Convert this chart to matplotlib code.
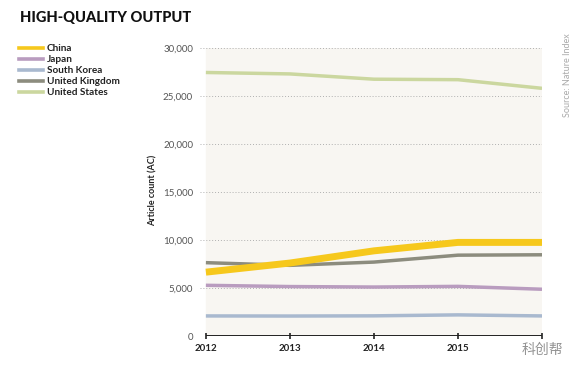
import numpy as np
import matplotlib.pyplot as plt

plt.rcParams['font.family'] = ['Lato', 'DejaVu Sans']

years = [2012, 2013, 2014, 2015, 2016]
tick_labels = ['2012', '2013', '2014', '2015', '']
yticks = [0, 5000, 10000, 15000, 20000, 25000, 30000]

countries = ['China', 'Japan', 'South Korea', 'United Kingdom', 'United States']
china = [6650, 7600, 8870, 9750, 9750]
japan = [5280, 5150, 5100, 5170, 4870]
south_korea = [2090, 2080, 2100, 2200, 2090]
uk = [7640, 7360, 7700, 8420, 8460]
us = [27450, 27300, 26750, 26700, 25800]

series = [china, japan, south_korea, uk, us]
colors = ['#f6c81c', '#b99cbf', '#a9b9cf', '#8c8c7e', '#cbd79f']
widths = [5, 2.5, 2.5, 2.5, 2.5]

fig = plt.figure(figsize=(5.8, 3.72), dpi=100)
ax = fig.add_axes([200 / 580, 1 - 336 / 372, 342 / 580, 288 / 372])

x0 = 2011.93
ax.set_xlim(x0, 2016)
ax.set_ylim(0, 30000)

# fondo de la zona de datos
ax.axvspan(2012, 2016, color='#f8f6f2', zorder=0)
for v in yticks[1:]:
    ax.hlines(v, x0, 2016, colors='#b0b0b0', linestyles=(0, (1, 2)), linewidth=0.7, zorder=1)

# dibujar US al fondo, China encima
order = [4, 1, 2, 3, 0]
for i in order:
    ax.plot(years, series[i], color=colors[i], lw=widths[i], solid_capstyle='butt', zorder=3 + (i == 0))

ax.hlines(0, 2012, 2016, colors='#222222', linewidth=1.4, zorder=5)

for s in ax.spines.values():
    s.set_visible(False)

ax.set_xticks(years)
ax.set_xticklabels(tick_labels, fontsize=7, fontweight='bold', color='#222222')
ax.tick_params(axis='x', length=5, width=1.2, color='#222222', direction='inout', pad=3)
ax.set_yticks(yticks)
ax.set_yticklabels([f'{v:,}' for v in yticks], fontsize=7, color='#555555')
ax.tick_params(axis='y', length=0, pad=5)

fig.text(153 / 580, 1 - 190 / 372, 'Article count (AC)', rotation=90, ha='center', va='center',
         fontsize=6.5, fontweight='bold', color='#222222')

fig.text(20 / 580, 1 - 18 / 372, 'HIGH-QUALITY OUTPUT', fontsize=10.5, fontweight='black',
         color='#111111', ha='left', va='center')

fig.text(567 / 580, 1 - 75 / 372, 'Source: Nature Index', rotation=90, ha='center', va='center',
         fontsize=6.5, color='#aaaaaa')

fig.text(522 / 580, 1 - 350 / 372, '科创帮', fontsize=10, color='#777777', ha='left', va='center',
         family=['Noto Sans CJK SC', 'DejaVu Sans'], alpha=0.8)

handles = [plt.Line2D([], [], color=c, lw=2.6) for c in colors]
leg = fig.legend(handles, countries, loc='upper left', bbox_to_anchor=(19 / 580, 1 - 44 / 372),
                 frameon=False, fontsize=7.2, handlelength=2.4, handletextpad=0.4,
                 labelspacing=0.2, borderpad=0, borderaxespad=0)
for t in leg.get_texts():
    t.set_fontweight('bold')
    t.set_color('#222222')

fig.savefig('out.png', dpi=100)
